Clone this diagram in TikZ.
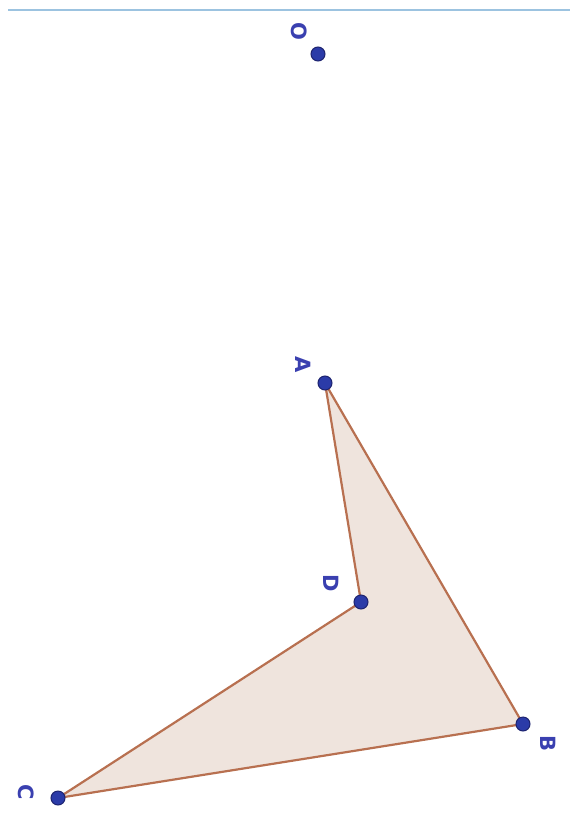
\documentclass[tikz,border=0pt]{standalone}
\usepackage{fontspec}
\setsansfont{DejaVu Sans}
\definecolor{ptblue}{HTML}{2B3BA8}
\definecolor{ptedge}{HTML}{1E2470}
\definecolor{lblblue}{HTML}{3A40B0}
\definecolor{segbrown}{HTML}{B87050}
\definecolor{polyfill}{HTML}{EFE4DD}
\definecolor{topline}{HTML}{9CC3E0}
\begin{document}
\begin{tikzpicture}[x=1pt,y=-1pt,
  pt/.style={circle,fill=ptblue,draw=ptedge,line width=1pt,inner sep=0pt,minimum size=14pt},
  lbl/.style={text=lblblue,font=\sffamily\bfseries\fontsize{21}{21}\selectfont,rotate=-90,inner sep=0pt},
  seg/.style={draw=segbrown,line width=2.2pt}]
\useasboundingbox (0,0) rectangle (570,827);
\coordinate (L1) at (8,10);
\coordinate (L2) at (570,10);
\draw[topline,line width=1.5pt] (L1) -- (L2);
\coordinate (A) at (325,383);
\coordinate (B) at (523,724);
\coordinate (C) at (58,798);
\coordinate (D) at (361,602);
\fill[polyfill] (A) -- (B) -- (C) -- (D) -- cycle;
\draw[seg,line join=round] (A) -- (B) -- (C) -- (D) -- cycle;
\node[pt] (O) at (318,54) {};
\node[pt] (nA) at (A) {};
\node[pt] (nB) at (B) {};
\node[pt] (nC) at (C) {};
\node[pt] (nD) at (D) {};
\node[lbl] (lO) at (299,31) {O};
\node[lbl] (lA) at (303,365) {A};
\node[lbl] (lD) at (331,583) {D};
\node[lbl] (lB) at (548,743) {B};
\node[lbl] (lC) at (26,792) {C};
\end{tikzpicture}
\end{document}
